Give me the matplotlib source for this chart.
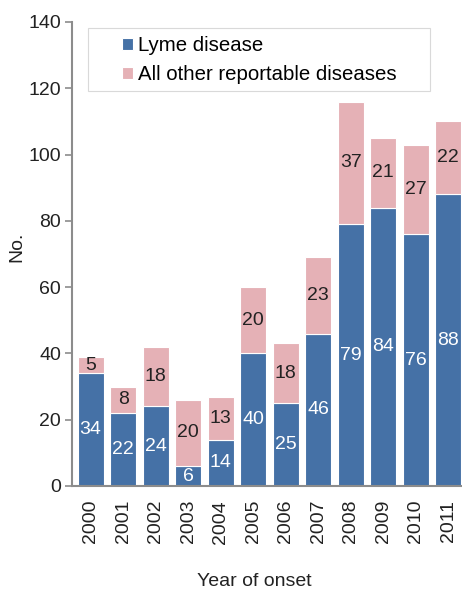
import matplotlib
matplotlib.use("Agg")
import matplotlib.pyplot as plt
from matplotlib.patches import Rectangle
import numpy as np

years = ['2000', '2001', '2002', '2003', '2004', '2005',
         '2006', '2007', '2008', '2009', '2010', '2011']
lyme = [34, 22, 24, 6, 14, 40, 25, 46, 79, 84, 76, 88]
other = [5, 8, 18, 20, 13, 20, 18, 23, 37, 21, 27, 22]

plt.rcParams['font.family'] = ['Liberation Sans', 'DejaVu Sans']
blue = '#4571a6'
pink = '#e5b1b6'
grey = '#8c8c8c'
txt = '#222222'
fs = 14

W, H = 462, 594
fig = plt.figure(figsize=(W / 100, H / 100), dpi=100)
ax = fig.add_axes([72 / W, 108 / H, 390 / W, 464 / H])

x = np.arange(len(years))
b1 = ax.bar(x, lyme, width=0.8, color=blue, edgecolor='white', linewidth=0.8,
            label='Lyme disease')
b2 = ax.bar(x, other, width=0.8, bottom=lyme, color=pink, edgecolor='white',
            linewidth=0.8, label='All other reportable diseases')

ax.bar_label(b1, labels=[str(v) for v in lyme], label_type='center',
             color='white', fontsize=fs)
ax.bar_label(b2, labels=[str(v) for v in other], label_type='center',
             color=txt, fontsize=fs)

ax.set_ylim(0, 140)
ax.set_yticks(range(0, 141, 20))
ax.set_xlim(-0.57, 11.42)
ax.set_xticks(x)
ax.set_xticklabels(years, rotation=90, fontsize=fs, color=txt)
ax.tick_params(axis='x', length=0, pad=10)
ax.tick_params(axis='y', labelsize=fs, colors=grey, labelcolor=txt,
               length=5, width=1.2, pad=3)

for s in ['top', 'right']:
    ax.spines[s].set_visible(False)
for s in ['left', 'bottom']:
    ax.spines[s].set_color(grey)
    ax.spines[s].set_linewidth(1.5)

ax.set_ylabel('No.', fontsize=fs, color=txt)
ax.yaxis.set_label_coords(-0.12, 0.515)
fig.text(254 / W, (H - 581) / H, 'Year of onset', ha='center', va='center',
         fontsize=fs, color=txt)

# legend frame drawn separately (Excel-style wide box)
fig.patches.append(Rectangle((88 / W, (H - 91) / H), 342 / W, 63 / H,
                             transform=fig.transFigure, facecolor='white',
                             edgecolor='#d9d9d9', linewidth=0.8, zorder=5))
leg = fig.legend(handles=[b1, b2], loc='center left',
                 bbox_to_anchor=(122 / W, (H - 60) / H), fontsize=14.7,
                 frameon=False, handlelength=0.55, handleheight=0.55,
                 handletextpad=0.25, borderpad=0.0, labelspacing=0.5,
                 borderaxespad=0.0)
leg.set_zorder(6)

fig.savefig('out.png', dpi=100)
